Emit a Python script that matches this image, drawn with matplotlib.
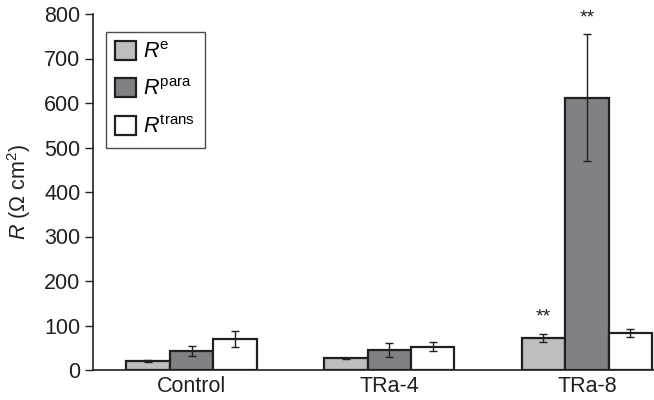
import matplotlib
matplotlib.use("Agg")
import matplotlib.pyplot as plt
import numpy as np

plt.rcParams['font.family'] = ['Liberation Sans', 'DejaVu Sans']
plt.rcParams['mathtext.fontset'] = 'custom'
plt.rcParams['mathtext.rm'] = 'Liberation Sans'
plt.rcParams['mathtext.it'] = 'Liberation Sans:italic'

# Datos
groups = ["Control", "TRa-4", "TRa-8"]
series = ["$R^{\\mathrm{e}}$", "$R^{\\mathrm{para}}$", "$R^{\\mathrm{trans}}$"]
r_e = [21, 26, 73]
r_e_err = [2, 2, 9]
r_para = [43, 45, 612]
r_para_err = [11, 15, 143]
r_trans = [69, 52, 84]
r_trans_err = [18, 10, 9]
stars = {(0, 2): "**", (1, 2): "**"}   # (serie, grupo)

values = [r_e, r_para, r_trans]
errors = [r_e_err, r_para_err, r_trans_err]
colors = ["#bdbec0", "#808184", "#ffffff"]
fs = 15.5

fig = plt.figure(figsize=(6.54, 4.0), dpi=100)
ax = fig.add_axes([0.142, 0.075, 0.858, 0.89])

x = np.arange(len(groups))
width = 0.22
for i in range(3):
    pos = x + (i - 1) * width
    ax.bar(pos, values[i], width, color=colors[i], edgecolor="#231f20",
           linewidth=1.6, label=series[i], zorder=2)
    ax.errorbar(pos, values[i], yerr=errors[i], fmt="none", ecolor="#231f20",
                elinewidth=1.0, capsize=3, capthick=1.0, zorder=3)

for (i, g), s in stars.items():
    top = values[i][g] + errors[i][g]
    ax.text(x[g] + (i - 1) * width, top + 18, s, ha="center", va="bottom",
            fontsize=14, color="#231f20")

ax.set_xlim(-0.5, 2.34)
ax.set_ylim(0, 800)
ax.set_yticks(range(0, 801, 100))
ax.set_xticks(x)
ax.set_xticklabels(groups, fontsize=fs, color="#231f20")
ax.tick_params(axis="x", length=0, pad=4)
ax.tick_params(axis="y", direction="out", length=6, width=1,
               labelsize=fs, colors="#231f20", pad=3)
ax.set_ylabel("$R$ ($\\Omega$ cm$^{2}$)", fontsize=fs, color="#231f20",
              labelpad=8)
for side in ["top", "right"]:
    ax.spines[side].set_visible(False)
for side in ["left", "bottom"]:
    ax.spines[side].set_color("#231f20")
    ax.spines[side].set_linewidth(1.2)

leg = ax.legend(loc="upper left", bbox_to_anchor=(0.023, 0.95), fontsize=fs,
                frameon=True, fancybox=False, edgecolor="#231f20",
                handlelength=0.95, handleheight=0.95, labelspacing=0.7,
                borderpad=0.45, handletextpad=0.35, borderaxespad=0)
leg.get_frame().set_linewidth(1.0)

fig.savefig("out.png", dpi=100)
